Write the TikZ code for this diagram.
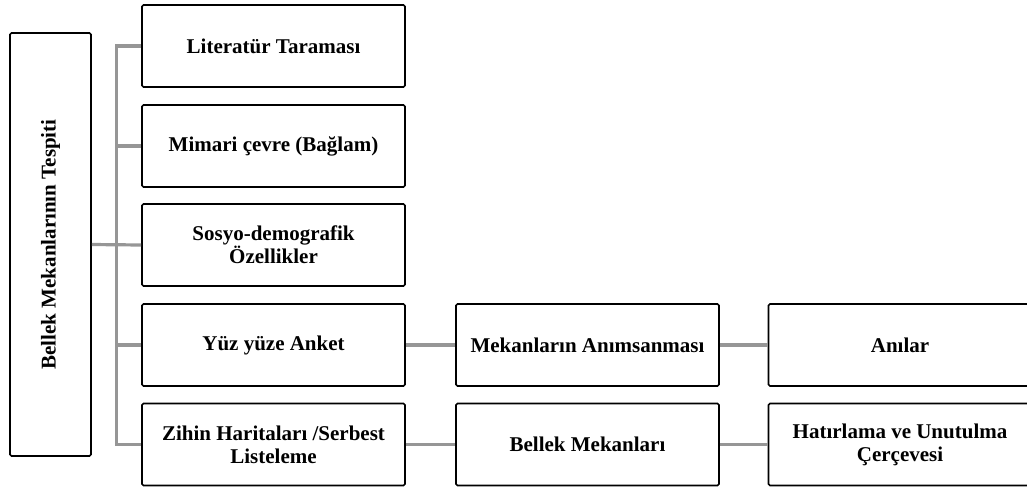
\documentclass[tikz,border=0pt]{standalone}
\usepackage{fontspec}
\setmainfont{Liberation Serif}
\begin{document}
\begin{tikzpicture}[x=1pt,y=-1pt,
  box/.style={draw=black,line width=1.6pt,rounded corners=1.5pt,align=center,inner sep=2pt,
    font=\bfseries\fontsize{21}{23}\selectfont,minimum height=82pt},
  c1/.style={box,minimum width=263pt},
  conn/.style={draw={rgb,255:red,150;green,150;blue,150},line width=3.2pt}]
\useasboundingbox (0,0) rectangle (1027,491);
\node[box,minimum width=81pt,minimum height=423pt] (L) at (50.5,244.5) {};
\node[rotate=90,font=\bfseries\fontsize{21}{23}\selectfont] (Lt) at (L.center) {Bellek Mekanlarının Tespiti};
\node[c1] (a1) at (273.5,46) {Literatür Taraması};
\node[c1] (a2) at (273.5,146) {Mimari çevre (Bağlam)};
\node[c1] (a3) at (273.5,245) {Sosyo-demografik\\Özellikler};
\node[c1] (a4) at (273.5,345) {Yüz yüze Anket};
\node[c1] (a5) at (273.5,444.5) {Zihin Haritaları /Serbest\\Listeleme};
\node[c1] (b4) at (587.5,345) {Mekanların Anımsanması};
\node[c1] (b5) at (587.5,444.5) {Bellek Mekanları};
\node[c1] (d4) at (900,345) {Anılar};
\node[c1] (d5) at (900,444.5) {Hatırlama ve Unutulma\\Çerçevesi};
\draw[conn] (L.east) -- (a3.west);
\draw[conn] (a1.west) -- ++(-25,0) coordinate (tt) |- (a5.west);
\draw[conn] (a2.west) -- ++(-25,0);
\draw[conn] (a4.west) -- ++(-25,0);
\draw[conn] (a4.east) -- (b4.west);
\draw[conn] (b4.east) -- (d4.west);
\draw[conn] (a5.east) -- (b5.west);
\draw[conn] (b5.east) -- (d5.west);
\end{tikzpicture}
\end{document}
